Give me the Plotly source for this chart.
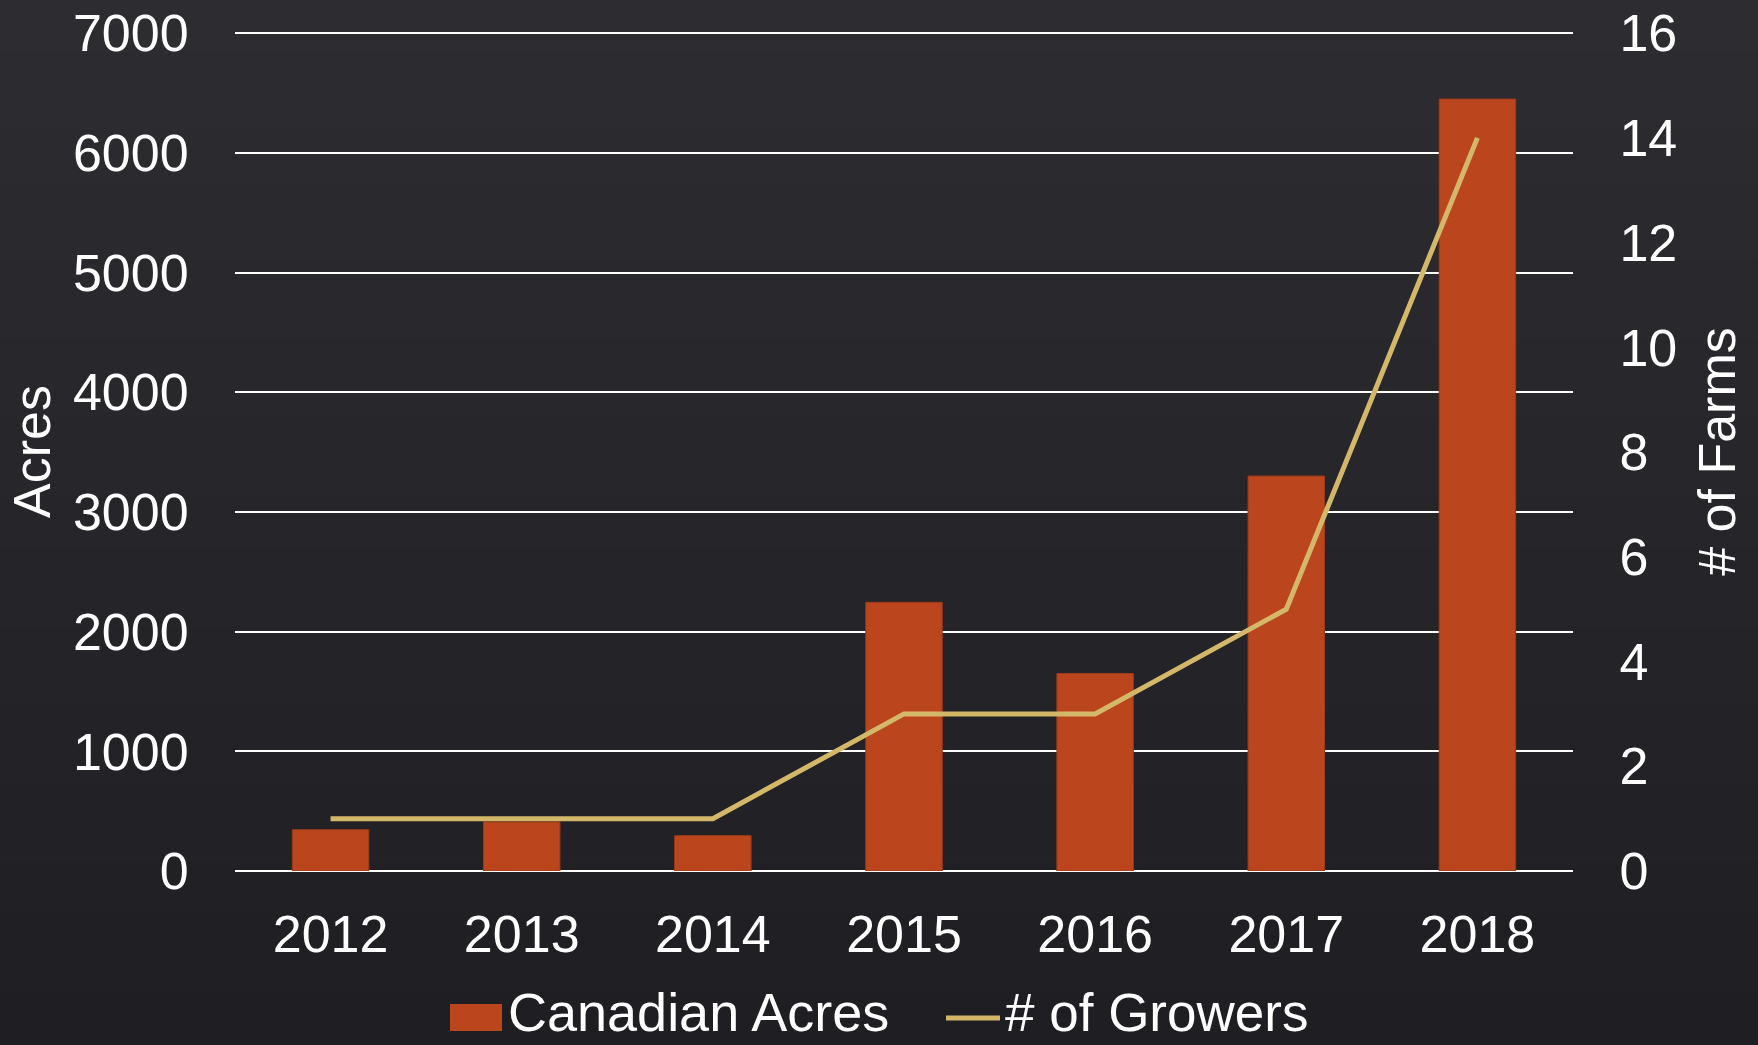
import plotly.graph_objects as go

years = ["2012", "2013", "2014", "2015", "2016", "2017", "2018"]
canadian_acres = [345, 410, 295, 2245, 1650, 3300, 6450]
growers = [1, 1, 1, 3, 3, 5, 14]

font_family = "Liberation Sans, Arial, sans-serif"
bar_color = "#BB461D"
line_color = "#D4B86A"

W, H = 1758, 1045
ML, MR, MT, MB = 235, 185, 32, 174
PW, PH = W - ML - MR, H - MT - MB


def px_x(v):
    # pixel -> paper x
    return (v - ML) / PW


def px_y(v):
    # pixel -> paper y
    return (H - MB - v) / PH


fig = go.Figure()

fig.add_trace(go.Bar(
    x=years,
    y=canadian_acres,
    name="Canadian Acres",
    marker=dict(color=bar_color, line=dict(color="#9c3a18", width=1)),
    showlegend=False,
))

fig.add_trace(go.Scatter(
    x=years,
    y=growers,
    name="# of Growers",
    mode="lines",
    yaxis="y2",
    line=dict(color=line_color, width=5),
    showlegend=False,
))

# dark chalkboard-ish background: vertical gradient bands
shapes = []
n_bands = 40
top_rgb = (44, 44, 49)
bot_rgb = (31, 31, 35)
for i in range(n_bands):
    t = i / (n_bands - 1)
    c = tuple(round(top_rgb[k] + (bot_rgb[k] - top_rgb[k]) * t) for k in range(3))
    y_top = i * H / n_bands - (1 if i == 0 else 0)
    y_bot = (i + 1) * H / n_bands + 1
    shapes.append(dict(
        type="rect", xref="paper", yref="paper", layer="below",
        x0=px_x(-1), x1=px_x(W + 1), y0=px_y(y_bot), y1=px_y(y_top),
        fillcolor="rgb(%d,%d,%d)" % c, line=dict(width=0),
    ))

# hand-built legend
shapes.append(dict(
    type="rect", xref="paper", yref="paper",
    x0=px_x(450), x1=px_x(502), y0=px_y(1031), y1=px_y(1004),
    fillcolor=bar_color, line=dict(width=0),
))
shapes.append(dict(
    type="line", xref="paper", yref="paper",
    x0=px_x(946), x1=px_x(1000), y0=px_y(1018), y1=px_y(1018),
    line=dict(color=line_color, width=5),
))

annotations = [
    dict(text="Canadian Acres", xref="paper", yref="paper",
         x=px_x(506), y=px_y(1044), xanchor="left", yanchor="bottom",
         showarrow=False, font=dict(size=54, color="white")),
    dict(text="# of Growers", xref="paper", yref="paper",
         x=px_x(1003), y=px_y(1044), xanchor="left", yanchor="bottom",
         showarrow=False, font=dict(size=53, color="white")),
]

fig.update_layout(
    width=W,
    height=H,
    paper_bgcolor="#2a2a2e",
    plot_bgcolor="rgba(0,0,0,0)",
    margin=dict(l=ML, r=MR, t=MT, b=MB, autoexpand=False),
    font=dict(family=font_family, size=52, color="white"),
    bargap=0.6,
    shapes=shapes,
    annotations=annotations,
    xaxis=dict(
        automargin=False,
        showgrid=False,
        showline=False,
        ticks="outside",
        ticklen=18,
        tickcolor="rgba(0,0,0,0)",
        tickfont=dict(size=52),
    ),
    yaxis=dict(
        automargin=False,
        title=dict(text="Acres", font=dict(size=52), standoff=5),
        range=[0, 7010],
        tickvals=[0, 1000, 2000, 3000, 4000, 5000, 6000, 7000],
        showgrid=True,
        gridcolor="white",
        gridwidth=2,
        zeroline=True,
        zerolinecolor="white",
        zerolinewidth=2,
        ticks="outside",
        ticklen=35,
        tickcolor="rgba(0,0,0,0)",
        tickfont=dict(size=52),
    ),
    yaxis2=dict(
        automargin=False,
        title=dict(text="# of Farms", font=dict(size=52), standoff=22),
        overlaying="y",
        side="right",
        range=[0, 16 * 7010 / 7000],
        tickvals=[0, 2, 4, 6, 8, 10, 12, 14, 16],
        showgrid=False,
        zeroline=False,
        ticks="outside",
        ticklen=35,
        tickcolor="rgba(0,0,0,0)",
        tickfont=dict(size=52),
    ),
)

fig.write_html(
    "out.html",
    config={"displayModeBar": False},
    post_script="document.body.style.margin='0';document.body.style.background='#2a2a2e';",
)
